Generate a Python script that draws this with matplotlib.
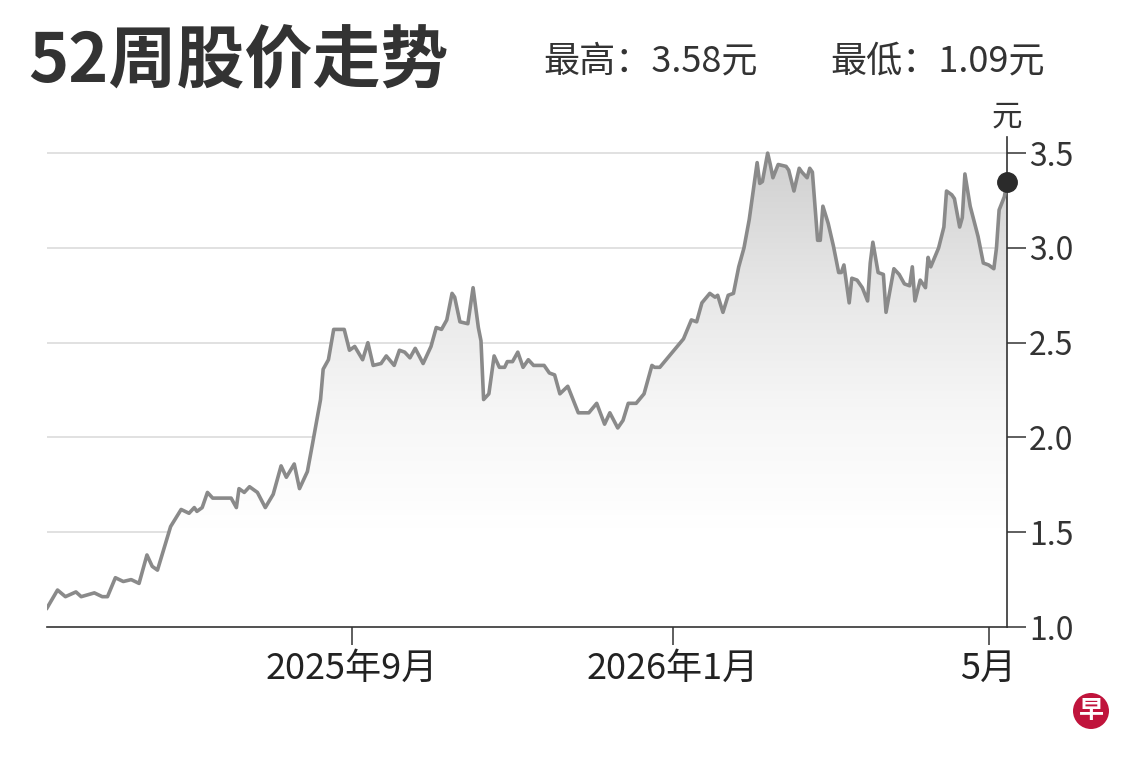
import matplotlib
matplotlib.use("Agg")
import matplotlib.pyplot as plt
import matplotlib.dates as mdates
import numpy as np
import pandas as pd
from matplotlib.colors import LinearSegmentedColormap
from matplotlib.patches import Polygon

plt.rcParams['font.family'] = ['Noto Sans CJK SC', 'DejaVu Sans']

# ---------------- data ----------------
dates = [
    "2025-05-08", "2025-05-12", "2025-05-15", "2025-05-19", "2025-05-21", "2025-05-26",
    "2025-05-29", "2025-05-31", "2025-06-03", "2025-06-06", "2025-06-09", "2025-06-12",
    "2025-06-15", "2025-06-17", "2025-06-19", "2025-06-24", "2025-06-28", "2025-07-01",
    "2025-07-03", "2025-07-04", "2025-07-06", "2025-07-08", "2025-07-10", "2025-07-17",
    "2025-07-19", "2025-07-20", "2025-07-22", "2025-07-24", "2025-07-27", "2025-07-30",
    "2025-08-02", "2025-08-05", "2025-08-07", "2025-08-10", "2025-08-12", "2025-08-15",
    "2025-08-17", "2025-08-20", "2025-08-21", "2025-08-23", "2025-08-25", "2025-08-29",
    "2025-08-31", "2025-09-02", "2025-09-05", "2025-09-07", "2025-09-09", "2025-09-12",
    "2025-09-14", "2025-09-17", "2025-09-19", "2025-09-21", "2025-09-23", "2025-09-25",
    "2025-09-28", "2025-10-01", "2025-10-03", "2025-10-05", "2025-10-07", "2025-10-09",
    "2025-10-10", "2025-10-12", "2025-10-15", "2025-10-17", "2025-10-19", "2025-10-20",
    "2025-10-21", "2025-10-23", "2025-10-25", "2025-10-27", "2025-10-29", "2025-10-30",
    "2025-11-01", "2025-11-03", "2025-11-05", "2025-11-07", "2025-11-09", "2025-11-11",
    "2025-11-13", "2025-11-15", "2025-11-17", "2025-11-19", "2025-11-22", "2025-11-24",
    "2025-11-26", "2025-11-30", "2025-12-03", "2025-12-06", "2025-12-08", "2025-12-11",
    "2025-12-13", "2025-12-15", "2025-12-18", "2025-12-21", "2025-12-24", "2025-12-25",
    "2025-12-27", "2025-12-30", "2026-01-02", "2026-01-05", "2026-01-08", "2026-01-10",
    "2026-01-12", "2026-01-15", "2026-01-17", "2026-01-18", "2026-01-20", "2026-01-22",
    "2026-01-24", "2026-01-26", "2026-01-28", "2026-01-30", "2026-01-31", "2026-02-02",
    "2026-02-03", "2026-02-04", "2026-02-06", "2026-02-07", "2026-02-08", "2026-02-10",
    "2026-02-13", "2026-02-14", "2026-02-16", "2026-02-18", "2026-02-19", "2026-02-21",
    "2026-02-22", "2026-02-23", "2026-02-25", "2026-02-26", "2026-02-27", "2026-03-01",
    "2026-03-03", "2026-03-05", "2026-03-06", "2026-03-07", "2026-03-09", "2026-03-10",
    "2026-03-12", "2026-03-14", "2026-03-16", "2026-03-17", "2026-03-18", "2026-03-20",
    "2026-03-22", "2026-03-23", "2026-03-26", "2026-03-28", "2026-03-30", "2026-04-01",
    "2026-04-02", "2026-04-03", "2026-04-05", "2026-04-07", "2026-04-08", "2026-04-09",
    "2026-04-12", "2026-04-14", "2026-04-15", "2026-04-17", "2026-04-18", "2026-04-20",
    "2026-04-21", "2026-04-22", "2026-04-24", "2026-04-27", "2026-04-29", "2026-05-01",
    "2026-05-03", "2026-05-04", "2026-05-05", "2026-05-07", "2026-05-08",
]
prices = [
    1.10, 1.195, 1.16, 1.185, 1.16, 1.18,
    1.16, 1.16, 1.26, 1.24, 1.25, 1.23,
    1.38, 1.32, 1.30, 1.53, 1.62, 1.60,
    1.63, 1.61, 1.63, 1.71, 1.68, 1.68,
    1.63, 1.73, 1.71, 1.74, 1.71, 1.63,
    1.70, 1.85, 1.79, 1.86, 1.73, 1.82,
    1.97, 2.20, 2.36, 2.41, 2.57, 2.57,
    2.46, 2.48, 2.41, 2.50, 2.38, 2.39,
    2.43, 2.38, 2.46, 2.45, 2.42, 2.47,
    2.39, 2.48, 2.58, 2.57, 2.62, 2.76,
    2.74, 2.61, 2.60, 2.79, 2.58, 2.51,
    2.20, 2.23, 2.43, 2.37, 2.37, 2.40,
    2.40, 2.45, 2.37, 2.41, 2.38, 2.38,
    2.38, 2.34, 2.33, 2.23, 2.27, 2.20,
    2.13, 2.13, 2.18, 2.07, 2.13, 2.05,
    2.09, 2.18, 2.18, 2.23, 2.38, 2.37,
    2.37, 2.42, 2.47, 2.52, 2.62, 2.61,
    2.71, 2.76, 2.74, 2.75, 2.66, 2.75,
    2.76, 2.90, 3.00, 3.15, 3.25, 3.45,
    3.34, 3.35, 3.50, 3.44, 3.37, 3.44,
    3.43, 3.41, 3.30, 3.42, 3.40, 3.37,
    3.42, 3.40, 3.04, 3.04, 3.22, 3.13,
    3.01, 2.87, 2.87, 2.91, 2.71, 2.84,
    2.83, 2.79, 2.72, 2.92, 3.03, 2.87,
    2.86, 2.66, 2.89, 2.86, 2.81, 2.80,
    2.90, 2.72, 2.83, 2.79, 2.95, 2.90,
    3.00, 3.11, 3.30, 3.28, 3.26, 3.11,
    3.16, 3.39, 3.22, 3.06, 2.92, 2.91,
    2.89, 3.00, 3.20, 3.27, 3.35,
]
tick_dates = ["2025-09-01", "2026-01-01", "2026-05-01"]
tick_labels = ["2025年9月", "2026年1月", "5月"]
y_ticks = [1.0, 1.5, 2.0, 2.5, 3.0, 3.5]
title = "52周股价走势"
high_text = "最高：3.58元"
low_text = "最低：1.09元"
unit = "元"
logo = "早"

# ---------------- figure ----------------
W, H = 1140, 760
fig = plt.figure(figsize=(W / 100, H / 100), dpi=100)
fig.patch.set_facecolor("white")
ax = fig.add_axes([47 / W, 1 - 627 / H, 960 / W, 490 / H])

xn = mdates.date2num(pd.to_datetime(dates))
x0 = mdates.date2num(pd.Timestamp("2025-05-08"))
x1 = mdates.date2num(pd.Timestamp("2026-05-08"))
ymin, ymax = 1.0, 3.585
ax.set_xlim(x0, x1)
ax.set_ylim(ymin, ymax)

# gradient fill under the line
cmap = LinearSegmentedColormap.from_list(
    "g", [(0.0, "#ffffff"), (0.2, "#ffffff"), (0.45, "#f6f6f6"),
          (0.7, "#e6e6e6"), (1.0, "#cdcdcd")])
grad = np.linspace(0, 1, 256).reshape(-1, 1)
im = ax.imshow(grad, extent=[x0, x1, ymin, ymax], origin="lower",
               aspect="auto", cmap=cmap, zorder=1, interpolation="bilinear")
verts = [(xn[0], ymin)] + list(zip(xn, prices)) + [(xn[-1], ymin)]
poly = Polygon(verts, closed=True, facecolor="none", edgecolor="none")
ax.add_patch(poly)
im.set_clip_path(poly)

ax.plot(xn, prices, color="#8a8a8a", lw=2.6, zorder=4)
ax.plot(xn[-1], prices[-1], "o", ms=14, color="#2b2b2b", zorder=6, clip_on=False)

# grid & axes
ax.set_yticks(y_ticks)
ax.set_yticklabels([f"{v:.1f}" for v in y_ticks])
ax.grid(axis="y", color="#dcdcdc", lw=1.2, zorder=0)
ax.set_axisbelow(True)
ax.yaxis.tick_right()
ax.tick_params(axis="y", length=14, width=1.1, color="#333333",
               labelsize=23, labelcolor="#333333", pad=2)
ax.set_xticks(mdates.date2num(pd.to_datetime(tick_dates)))
ax.set_xticklabels(tick_labels)
ax.tick_params(axis="x", length=13, width=1.1, color="#333333",
               labelsize=26, labelcolor="#222222", pad=4)
for s in ["left", "top"]:
    ax.spines[s].set_visible(False)
for s in ["bottom", "right"]:
    ax.spines[s].set_color("#333333")
    ax.spines[s].set_linewidth(1.2)

# texts
fig.text(28 / W, 1 - 63 / H, title, fontsize=49, fontweight="bold",
         color="#333333", va="center", ha="left")
fig.text(543 / W, 1 - 61 / H, high_text, fontsize=26, color="#333333",
         va="center", ha="left")
fig.text(1045 / W, 1 - 61 / H, low_text, fontsize=26, color="#333333",
         va="center", ha="right")
fig.text(1007 / W, 1 - 117 / H, unit, fontsize=22, color="#333333",
         va="center", ha="center")
fig.text(1091 / W, 1 - 711 / H, logo, fontsize=18, fontweight="bold",
         color="white", va="center", ha="center",
         bbox=dict(boxstyle="circle,pad=0.22", fc="#c0143c", ec="none"))

fig.savefig("out.png", dpi=100, facecolor="white")
